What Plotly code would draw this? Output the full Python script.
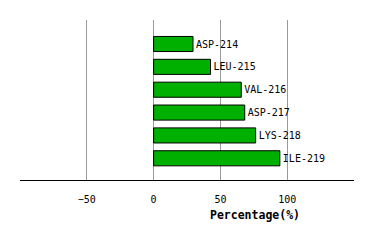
import plotly.graph_objects as go

residues = ["ASP-214", "LEU-215", "VAL-216", "ASP-217", "LYS-218", "ILE-219"]
percentages = [29.5, 42.6, 65.6, 68.2, 76.4, 94.5]
tick_values = [-50, 0, 50, 100]

fig = go.Figure(go.Bar(
    x=percentages,
    y=residues,
    orientation="h",
    width=0.66,
    marker=dict(color="#00b000", line=dict(color="black", width=1)),
    text=residues,
    textposition="outside",
    textfont=dict(family="DejaVu Sans Mono", size=10, color="black"),
    cliponaxis=False,
))

fig.update_layout(
    width=374, height=240,
    margin=dict(l=20, r=20, t=20, b=60),
    paper_bgcolor="white", plot_bgcolor="white",
    showlegend=False,
    xaxis=dict(
        range=[-100, 150],
        tickvals=tick_values,
        showgrid=True, gridcolor="#999999", gridwidth=1,
        zeroline=False,
        showline=True, linecolor="black", linewidth=1,
        ticks="",
        ticklabelstandoff=10,
        tickfont=dict(family="DejaVu Sans Mono", size=10, color="black"),
    ),
    yaxis=dict(
        type="category",
        range=[5.95, -1.05],
        showticklabels=False,
        showgrid=False, zeroline=False, showline=False, ticks="",
    ),
    annotations=[dict(
        text="<b>Percentage(%)</b>",
        xref="paper", yref="paper",
        x=0.703, y=-0.219,
        xanchor="center", yanchor="middle",
        showarrow=False,
        font=dict(family="DejaVu Sans Mono", size=11.5, color="black"),
    )],
)

fig.write_html("out.html")
